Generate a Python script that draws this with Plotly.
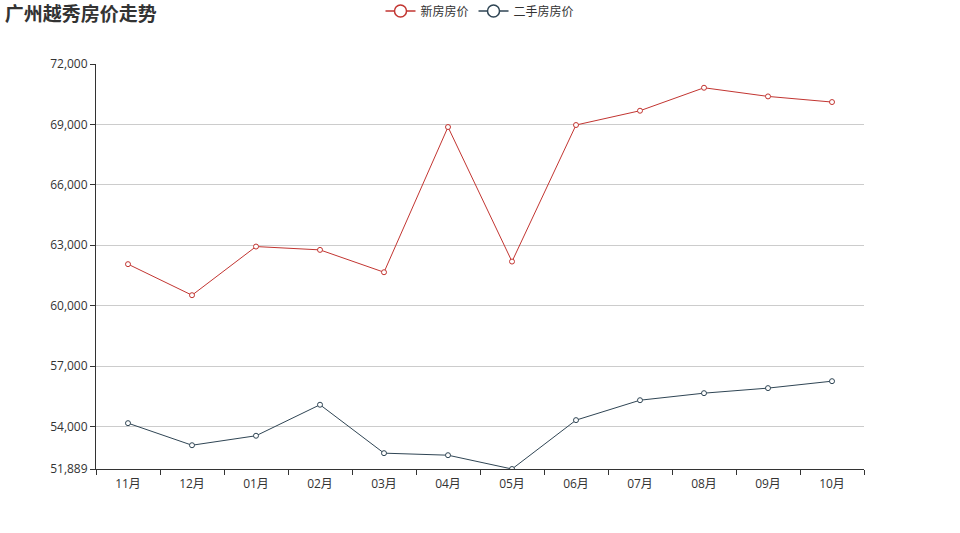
import plotly.graph_objects as go

# Data
months = ["11月", "12月", "01月", "02月", "03月", "04月",
          "05月", "06月", "07月", "08月", "09月", "10月"]
new_price = [62060, 60520, 62935, 62770, 61660, 68870,
             62190, 68970, 69680, 70820, 70390, 70110]
second_price = [54165, 53070, 53540, 55080, 52675, 52575,
                51889, 54315, 55305, 55655, 55905, 56250]
y_ticks = [51889, 54000, 57000, 60000, 63000, 66000, 69000, 72000]

font_family = "Open Sans, Noto Sans CJK SC, sans-serif"

fig = go.Figure()
for name, values, color in [("新房房价", new_price, "#c23531"),
                            ("二手房房价", second_price, "#2f4554")]:
    fig.add_trace(go.Scatter(
        x=months, y=values, name=name,
        mode="lines+markers", showlegend=False,
        line=dict(color=color, width=1),
        marker=dict(symbol="circle", size=5, color="white",
                    line=dict(color=color, width=1)),
    ))
    # legend entry with the bigger echarts-like icon
    fig.add_trace(go.Scatter(
        x=[None], y=[None], name=name,
        mode="lines+markers",
        line=dict(color=color, width=1.5),
        marker=dict(symbol="circle", size=12, color="white",
                    line=dict(color=color, width=1.5)),
    ))

fig.update_layout(
    width=960, height=533,
    margin=dict(l=96, r=96, t=64, b=64, autoexpand=False),
    paper_bgcolor="white", plot_bgcolor="white",
    font=dict(family=font_family, size=12, color="#333"),
    title=dict(text="<b>广州越秀房价走势</b>", x=0.005, xanchor="left",
               xref="container", yref="container",
               y=1 - 14 / 533, yanchor="middle",
               font=dict(size=19, color="#333",
                         family="Noto Sans CJK SC, sans-serif")),
    legend=dict(orientation="h", x=0.5, xanchor="center",
                xref="container", yref="container",
                y=1 - 11 / 533, yanchor="middle",
                font=dict(size=12, color="#333"),
                itemwidth=30, tracegroupgap=0),
    showlegend=True,
)

fig.update_xaxes(
    type="category", tickson="boundaries",
    range=[-0.5, len(months) - 0.5],
    showline=True, linecolor="#333", linewidth=1,
    ticks="outside", ticklen=5, tickcolor="#333",
    ticklabelstandoff=4,
    showgrid=False, zeroline=False,
    tickfont=dict(size=12, color="#333"),
)
fig.update_yaxes(
    range=[51889, 72000], tickvals=y_ticks, tickformat=",d",
    showline=True, linecolor="#333", linewidth=1,
    ticks="outside", ticklen=5, tickcolor="#333",
    showgrid=True, gridcolor="#ccc", gridwidth=1,
    zeroline=False,
    tickfont=dict(size=12, color="#333"),
)

# the page body adds an 8px margin; drop it so the chart sits at 0,0
fig.write_html("out.html", config={"displayModeBar": False},
               post_script="document.body.style.margin = '0';")
